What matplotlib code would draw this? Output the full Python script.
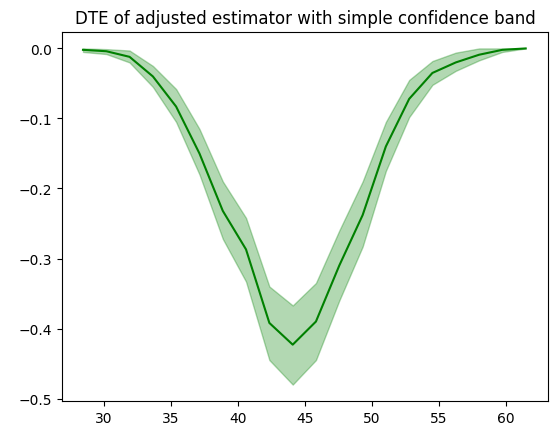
import matplotlib
matplotlib.use("Agg")
import matplotlib.pyplot as plt
import numpy as np

x = [28.46, 30.2, 31.93, 33.67, 35.4, 37.14, 38.88, 40.61, 42.35, 44.09,
     45.82, 47.56, 49.3, 51.03, 52.77, 54.5, 56.24, 57.98, 59.71, 61.45]
dte = [-0.002, -0.004, -0.012, -0.04, -0.083, -0.15, -0.232, -0.287, -0.392, -0.423,
       -0.39, -0.31, -0.238, -0.14, -0.072, -0.035, -0.02, -0.009, -0.002, 0.0]
upper = [0.0, -0.001, -0.003, -0.025, -0.058, -0.115, -0.19, -0.242, -0.34, -0.367,
         -0.335, -0.26, -0.19, -0.105, -0.045, -0.018, -0.006, 0.0, 0.0, 0.0]
lower = [-0.005, -0.008, -0.02, -0.055, -0.105, -0.18, -0.272, -0.333, -0.445, -0.48,
         -0.445, -0.36, -0.283, -0.175, -0.098, -0.052, -0.032, -0.017, -0.005, 0.0]

fig, ax = plt.subplots(figsize=(5.59, 4.35), dpi=100)
ax.plot(x, dte, color="green")
ax.fill_between(x, lower, upper, color="green", alpha=0.3)
ax.set_xlim(26.9, 63.1)
ax.set_title("DTE of adjusted estimator with simple confidence band")
fig.subplots_adjust(left=0.111, right=0.980, top=0.925, bottom=0.075)
fig.savefig("out.png")
